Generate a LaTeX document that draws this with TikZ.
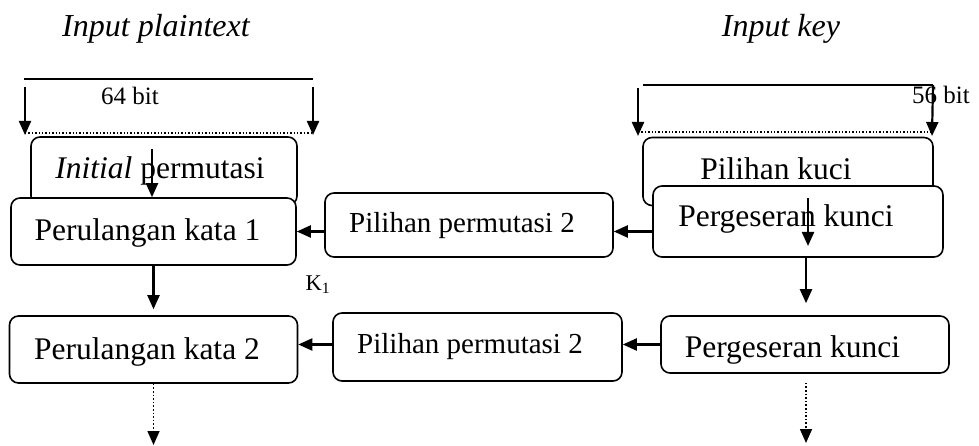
\documentclass[tikz,border=0pt]{standalone}
\usepackage{fontspec}
\setmainfont{Liberation Serif}
\usetikzlibrary{arrows.meta}

\tikzset{
  box/.style={draw, line width=1.6pt, rounded corners=9pt, fill=white, inner sep=0pt},
  txt/.style={font=\fontsize{31.5}{36}\selectfont, anchor=base, inner sep=0pt},
  inbox/.style={font=\fontsize{31.5}{36}\selectfont, inner sep=0pt, text height=0pt, text depth=0pt},
  small/.style={font=\fontsize{25}{30}\selectfont, anchor=base, inner sep=0pt},
  flow/.style={line width=2.2pt, -{Triangle[length=14pt,width=12pt]}},
  more/.style={line width=1.6pt, dotted, -{Triangle[length=14pt,width=12pt]}},
  bar/.style={line width=1.8pt},
  dotline/.style={line width=1.4pt, dotted},
}

\begin{document}
\begin{tikzpicture}[x=1pt,y=-1pt]
  \useasboundingbox (0,0) rectangle (979,446);

  % ============================================================
  %                       HEADINGS
  % ============================================================
  \node[txt, font=\fontsize{32}{36}\selectfont\itshape] (hPlain) at (156,37) {Input plaintext};
  \node[txt, font=\fontsize{32}{36}\selectfont\itshape] (hKey) at (781,37) {Input key};

  % ============================================================
  %                       INPUT WIDTHS
  % ============================================================
  \coordinate (pL) at (24,79);  \coordinate (pR) at (313,79);
  \coordinate (kL) at (643,85); \coordinate (kR) at (933,85);
  \draw[bar] (pL) -- (pR);
  \draw[bar] (kL) -- (kR);
  \foreach \xx in {25,313} {
    \draw[flow] (\xx,87) -- (\xx,135);
  }
  \draw[flow] (638,88) -- (638,136);
  \draw[flow] (kR) -- (932,136);
  \draw[dotline] (25,133) -- (313,133);
  \draw[dotline] (638,132) -- (932,132);
  \node[small] (wPlain) at (130,105) {64 bit};
  \node[small] (wKey) at (941,104) {56 bit};

  % ============================================================
  %                       BACK BOXES
  % ============================================================
  % label shifts put the baseline of each text inside its box
  \node[box, minimum width=266pt, minimum height=68pt,
    label={[inbox, xshift=-4pt, yshift=-8pt]center:\textit{Initial} permutasi}] (init) at (164,171) {};
  \node[box, minimum width=290pt, minimum height=68pt,
    label={[inbox, xshift=-12pt, yshift=-8.5pt]center:Pilihan kuci}] (pck) at (788,171.5) {};

  % ============================================================
  %                       ROUND 1
  % ============================================================
  \node[box, minimum width=285pt, minimum height=67pt,
    label={[inbox, xshift=-6pt, yshift=-9.5pt]center:Perulangan kata 1}] (loop1) at (153.5,231.5) {};
  \node[box, minimum width=288pt, minimum height=64pt,
    label={[inbox, font=\fontsize{29}{34}\selectfont, xshift=-7pt, yshift=-8pt]center:Pilihan permutasi 2}] (pc1) at (469,225) {};
  \node[box, minimum width=290pt, minimum height=71pt,
    label={[inbox, xshift=-12pt, yshift=-5.5pt]center:Pergeseran kunci}] (shift1) at (798,221.5) {};

  % ============================================================
  %                       ROUND 2
  % ============================================================
  \node[box, minimum width=288pt, minimum height=67pt,
    label={[inbox, xshift=-6.5pt, yshift=-9.5pt]center:Perulangan kata 2}] (loop2) at (153.5,349.5) {};
  \node[box, minimum width=289pt, minimum height=68pt,
    label={[inbox, font=\fontsize{29}{34}\selectfont, xshift=-7.5pt, yshift=-6pt]center:Pilihan permutasi 2}] (pc2) at (477.5,347) {};
  \node[box, minimum width=288pt, minimum height=57pt,
    label={[inbox, xshift=-12.5pt, yshift=-12.5pt]center:Pergeseran kunci}] (shift2) at (805,344.5) {};

  \node[txt, font=\fontsize{22.5}{26}\selectfont] (k1) at (318,290) {K\textsubscript{1}};

  % ============================================================
  %                       CONNECTORS
  % ============================================================
  \coordinate (initIn) at (152,149);
  \coordinate (shiftIn) at (808,198);
  \coordinate (kcol) at (806,0);
  \coordinate (endL) at (153.5,445);
  \coordinate (endR) at (806,443);

  \draw[flow] (initIn) -- (initIn |- loop1.north);
  \draw[flow] (shiftIn) -- (808,246);

  \draw[flow] (pc1.west |- loop1.east) -- (loop1.east);
  \draw[flow] (shift1.west |- loop1.east) -- (pc1.east |- loop1.east);
  \draw[flow] (shift2.west) -- (shift2.west -| pc2.east);
  \draw[flow] (pc2.west |- shift2.west) -- (loop2.east |- shift2.west);

  \draw[flow, shorten >=6pt] (loop1.south) -- (loop2.north);
  \draw[flow, shorten >=12pt] (kcol |- shift1.south) -- (kcol |- shift2.north);

  \draw[more] (loop2.south) -- (endL);
  \draw[more, shorten <=9pt] (kcol |- shift2.south) -- (endR);

\end{tikzpicture}
\end{document}
